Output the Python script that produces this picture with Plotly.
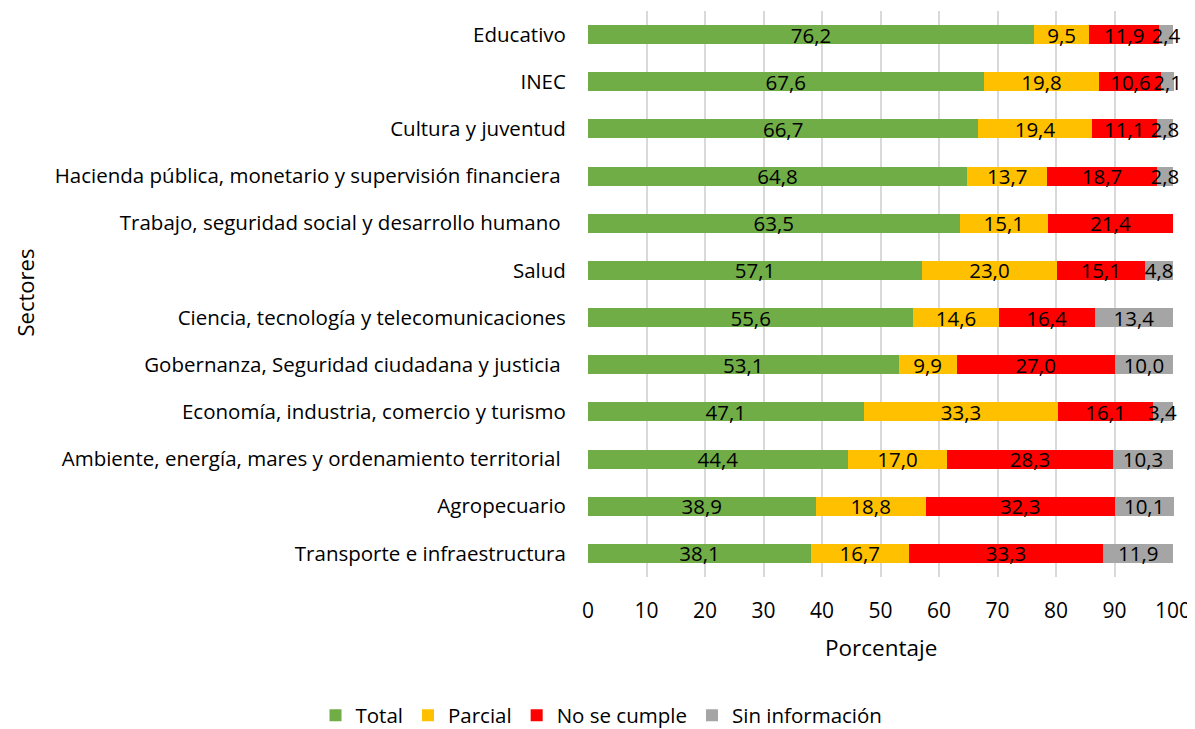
import plotly.graph_objects as go

NB = "\u00a0"
sectores = [
    "Educativo",
    "INEC",
    "Cultura y juventud",
    "Hacienda pública, monetario y supervisión financiera" + NB,
    "Trabajo, seguridad social y desarrollo humano" + NB,
    "Salud",
    "Ciencia, tecnología y telecomunicaciones",
    "Gobernanza, Seguridad ciudadana y justicia" + NB,
    "Economía, industria, comercio y turismo",
    "Ambiente, energía, mares y ordenamiento territorial" + NB,
    "Agropecuario",
    "Transporte e infraestructura",
]
total = [76.2, 67.6, 66.7, 64.8, 63.5, 57.1, 55.6, 53.1, 47.1, 44.4, 38.9, 38.1]
parcial = [9.5, 19.8, 19.4, 13.7, 15.1, 23.0, 14.6, 9.9, 33.3, 17.0, 18.8, 16.7]
no_cumple = [11.9, 10.6, 11.1, 18.7, 21.4, 15.1, 16.4, 27.0, 16.1, 28.3, 32.3, 33.3]
sin_info = [2.4, 2.1, 2.8, 2.8, None, 4.8, 13.4, 10.0, 3.4, 10.3, 10.1, 11.9]

series = [
    ("Total", total, "#70AD47"),
    ("Parcial", parcial, "#FFC000"),
    ("No se cumple", no_cumple, "#FF0000"),
    ("Sin información", sin_info, "#A5A5A5"),
]

FONT = "Open Sans"
TXT = 20.5
fig = go.Figure()
for name, vals, col in series:
    fig.add_trace(go.Bar(
        name=name, y=sectores, x=vals, orientation="h",
        marker=dict(color=col, line=dict(width=0)),
        texttemplate="%{x:.1f}", textposition="inside", insidetextanchor="middle",
        textangle=0, insidetextfont=dict(family=FONT, size=TXT, color="#000000"),
        constraintext="none", cliponaxis=False, width=0.4,
    ))

fig.update_layout(
    barmode="stack",
    separators=",.",
    width=1187, height=721,
    paper_bgcolor="white", plot_bgcolor="white",
    margin=dict(l=580, r=21, t=3, b=152),
    font=dict(family=FONT, size=TXT, color="#000000"),
    uniformtext=dict(mode="show", minsize=TXT),
    showlegend=True,
    legend=dict(orientation="h", x=0.5, xref="container", xanchor="center",
                y=0.019, yref="container", yanchor="middle",
                font=dict(family=FONT, size=TXT, color="#000000"),
                itemwidth=30, traceorder="normal"),
    xaxis=dict(range=[0, 100.15], tickvals=[0, 10, 20, 30, 40, 50, 60, 70, 80, 90, 100],
               showgrid=True, gridcolor="#D9D9D9",
               gridwidth=1.5, zeroline=False, showline=False,
               ticks="outside", ticklen=15, tickcolor="rgba(0,0,0,0)",
               tickfont=dict(family=FONT, size=21, color="#000000")),
    yaxis=dict(autorange="reversed", showgrid=False, showline=False,
               ticks="outside", ticklen=17, tickcolor="rgba(0,0,0,0)",
               tickfont=dict(family=FONT, size=TXT, color="#000000")),
    annotations=[
        dict(text="Sectores", xref="paper", yref="paper", x=-0.9895, y=0.503,
             xanchor="left", yanchor="middle", textangle=-90, showarrow=False,
             font=dict(family=FONT, size=22, color="#000000")),
        dict(text="Porcentaje", xref="paper", yref="paper", x=0.5, y=-0.124,
             xanchor="center", yanchor="middle", showarrow=False,
             font=dict(family=FONT, size=22.5, color="#000000")),
    ],
)

fig.write_html("out.html")
